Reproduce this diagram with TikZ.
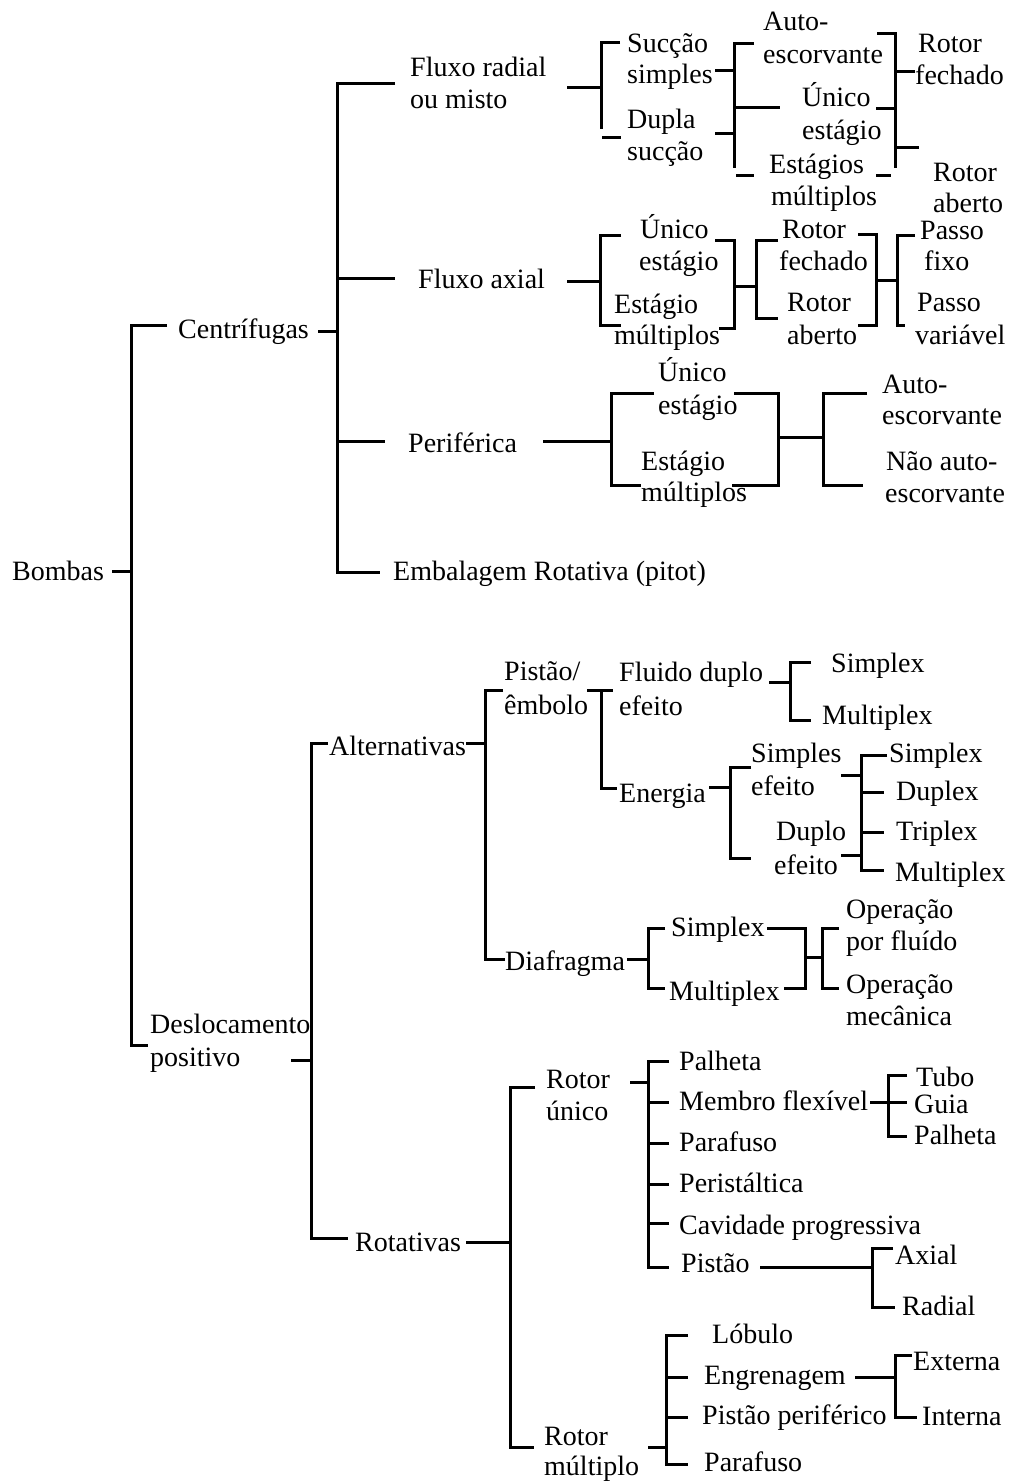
\documentclass[tikz,border=0pt]{standalone}
\usepackage{fontspec}
\setmainfont{Liberation Serif}
\begin{document}
\begin{tikzpicture}[x=1pt,y=-1pt,
  txt/.style={anchor=mid west,inner sep=0pt,yshift=-6pt,font=\fontsize{28}{32}\selectfont},
  ln/.style={line width=3pt,line join=miter}]
\useasboundingbox[fill=white] (0,0) rectangle (1011,1481);
\newcommand{\T}[4]{\node[txt] (#1) at (#2,#3) {#4};}
% ---------- text ----------
\T{bombas}{12}{572}{Bombas}
\T{centr}{178}{330}{Centrífugas}
\T{desl1}{150}{1025}{Deslocamento}
\T{desl2}{150}{1058}{positivo}
\T{fr1}{410}{68}{Fluxo radial}
\T{fr2}{410}{100}{ou misto}
\T{fa}{418}{280}{Fluxo axial}
\T{per}{408}{444}{Periférica}
\T{emb}{393}{572}{Embalagem Rotativa (pitot)}
% fluxo radial
\T{ss1}{627}{44}{Sucção}
\T{ss2}{627}{75}{simples}
\T{ds1}{627}{120}{Dupla}
\T{ds2}{627}{152}{sucção}
\T{ae1}{763}{22}{Auto-}
\T{ae2}{763}{55}{escorvante}
\T{ue1}{802}{98}{Único}
\T{ue2}{802}{131}{estágio}
\T{em1}{769}{165}{Estágios}
\T{em2}{771}{197}{múltiplos}
\T{rf1}{918}{44}{Rotor}
\T{rf2}{915}{76}{fechado}
\T{ra1}{933}{173}{Rotor}
\T{ra2}{933}{204}{aberto}
% fluxo axial
\T{fue1}{640}{230}{Único}
\T{fue2}{639}{262}{estágio}
\T{fem1}{614}{305}{Estágio}
\T{fem2}{614}{336}{múltiplos}
\T{frf1}{782}{230}{Rotor}
\T{frf2}{779}{262}{fechado}
\T{fra1}{787}{303}{Rotor}
\T{fra2}{787}{336}{aberto}
\T{pf1}{920}{231}{Passo}
\T{pf2}{924}{262}{fixo}
\T{pv1}{917}{303}{Passo}
\T{pv2}{915}{336}{variável}
% periferica
\T{pue1}{658}{373}{Único}
\T{pue2}{658}{406}{estágio}
\T{pem1}{641}{462}{Estágio}
\T{pem2}{641}{493}{múltiplos}
\T{pae1}{882}{385}{Auto-}
\T{pae2}{882}{416}{escorvante}
\T{pna1}{886}{462}{Não auto-}
\T{pna2}{885}{494}{escorvante}
% alternativas
\T{alt}{329}{747}{Alternativas}
\T{pe1}{504}{672}{Pistão/}
\T{pe2}{504}{706}{êmbolo}
\T{fd1}{619}{673}{Fluido duplo}
\T{fd2}{619}{707}{efeito}
\T{ener}{619}{794}{Energia}
\T{fsx}{831}{664}{Simplex}
\T{fmx}{822}{716}{Multiplex}
\T{se1}{751}{754}{Simples}
\T{se2}{751}{787}{efeito}
\T{de1}{776}{832}{Duplo}
\T{de2}{774}{866}{efeito}
\T{esx}{889}{754}{Simplex}
\T{edx}{896}{792}{Duplex}
\T{etx}{896}{832}{Triplex}
\T{emx}{895}{873}{Multiplex}
\T{diaf}{505}{962}{Diafragma}
\T{dsx}{671}{928}{Simplex}
\T{dmx}{669}{992}{Multiplex}
\T{of1}{846}{910}{Operação}
\T{of2}{846}{942}{por fluído}
\T{om1}{846}{985}{Operação}
\T{om2}{846}{1017}{mecânica}
% rotativas
\T{rot}{355}{1243}{Rotativas}
\T{ru1}{546}{1080}{Rotor}
\T{ru2}{546}{1112}{único}
\T{pal}{679}{1062}{Palheta}
\T{mfl}{679}{1102}{Membro flexível}
\T{par}{679}{1143}{Parafuso}
\T{peri}{679}{1184}{Peristáltica}
\T{cav}{679}{1226}{Cavidade progressiva}
\T{pis}{681}{1264}{Pistão}
\T{tubo}{916}{1078}{Tubo}
\T{guia}{914}{1105}{Guia}
\T{palh}{914}{1136}{Palheta}
\T{axial}{895}{1256}{Axial}
\T{radial}{902}{1307}{Radial}
\T{rm1}{544}{1437}{Rotor}
\T{rm2}{544}{1467}{múltiplo}
\T{lob}{712}{1335}{Lóbulo}
\T{eng}{704}{1376}{Engrenagem}
\T{ppe}{702}{1416}{Pistão periférico}
\T{parm}{704}{1463}{Parafuso}
\T{ext}{913}{1362}{Externa}
\T{int}{922}{1417}{Interna}
% ---------- lines ----------
\begin{scope}[ln]
% root
\draw (112,571)--(131,571);
\draw (167,325)--(131,325)--(131,1045)--(148,1045);
\draw (318,331)--(337,331);
\draw (395,83)--(337,83)--(337,572)--(380,572);
\draw (337,278)--(395,278);
\draw (337,441)--(385,441);
% fluxo radial
\draw (567,87)--(601,87);
\draw (620,42)--(601,42)--(601,129);
\draw (602,137)--(621,137);
\draw (715,70)--(734,70);
\draw (715,133)--(734,133);
\draw (754,43)--(734,43)--(734,168);
\draw (734,107)--(780,107);
\draw (736,175)--(754,175);
\draw (877,33)--(895,33)--(895,168);
\draw (876,108)--(895,108);
\draw (876,175)--(891,175);
\draw (895,71)--(915,71);
\draw (895,147)--(919,147);
% fluxo axial
\draw (567,281)--(600,281);
\draw (621,235)--(600,235)--(600,325)--(621,325);
\draw (715,240)--(734,240)--(734,328)--(719,328);
\draw (734,286)--(756,286);
\draw (778,240)--(756,240)--(756,318)--(778,318);
\draw (858,234)--(876,234)--(876,325)--(858,325);
\draw (876,280)--(897,280);
\draw (915,235)--(897,235)--(897,325)--(905,325);
% periferica
\draw (543,441)--(611,441);
\draw (654,393)--(611,393)--(611,485)--(641,485);
\draw (734,393)--(778,393)--(778,485)--(732,485);
\draw (778,437)--(823,437);
\draw (867,393)--(823,393)--(823,485)--(863,485);
% deslocamento
\draw (291,1060)--(311,1060);
\draw (328,743)--(311,743)--(311,1238)--(348,1238);
\draw (466,743)--(485,743);
\draw (503,690)--(485,690)--(485,959)--(505,959);
\draw (587,690)--(613,690);
\draw (601,690)--(601,788)--(617,788);
\draw (769,682)--(790,682);
\draw (811,662)--(790,662)--(790,720)--(811,720);
\draw (709,787)--(730,787);
\draw (751,767)--(730,767)--(730,858)--(751,858);
\draw (841,775)--(861,775);
\draw (841,855)--(861,855);
\draw (887,755)--(861,755)--(861,870)--(884,870);
\draw (861,792)--(884,792);
\draw (861,832)--(884,832);
\draw (627,959)--(648,959);
\draw (665,928)--(648,928)--(648,988)--(665,988);
\draw (767,928)--(805,928)--(805,988)--(784,988);
\draw (805,957)--(822,957);
\draw (839,928)--(822,928)--(822,988)--(839,988);
% rotativas
\draw (466,1242)--(510,1242);
\draw (535,1087)--(510,1087)--(510,1447)--(534,1447);
\draw (630,1082)--(648,1082);
\draw (669,1061)--(648,1061)--(648,1267)--(669,1267);
\draw (648,1102)--(669,1102);
\draw (648,1143)--(669,1143);
\draw (648,1184)--(669,1184);
\draw (648,1223)--(669,1223);
\draw (870,1102)--(907,1102);
\draw (907,1075)--(888,1075)--(888,1136)--(907,1136);
\draw (760,1267)--(872,1267);
\draw (893,1248)--(872,1248)--(872,1307)--(895,1307);
\draw (648,1447)--(666,1447);
\draw (688,1335)--(666,1335)--(666,1464)--(688,1464);
\draw (666,1377)--(688,1377);
\draw (666,1417)--(688,1417);
\draw (855,1377)--(895,1377);
\draw (912,1355)--(895,1355)--(895,1417)--(917,1417);
\end{scope}
\end{tikzpicture}
\end{document}
